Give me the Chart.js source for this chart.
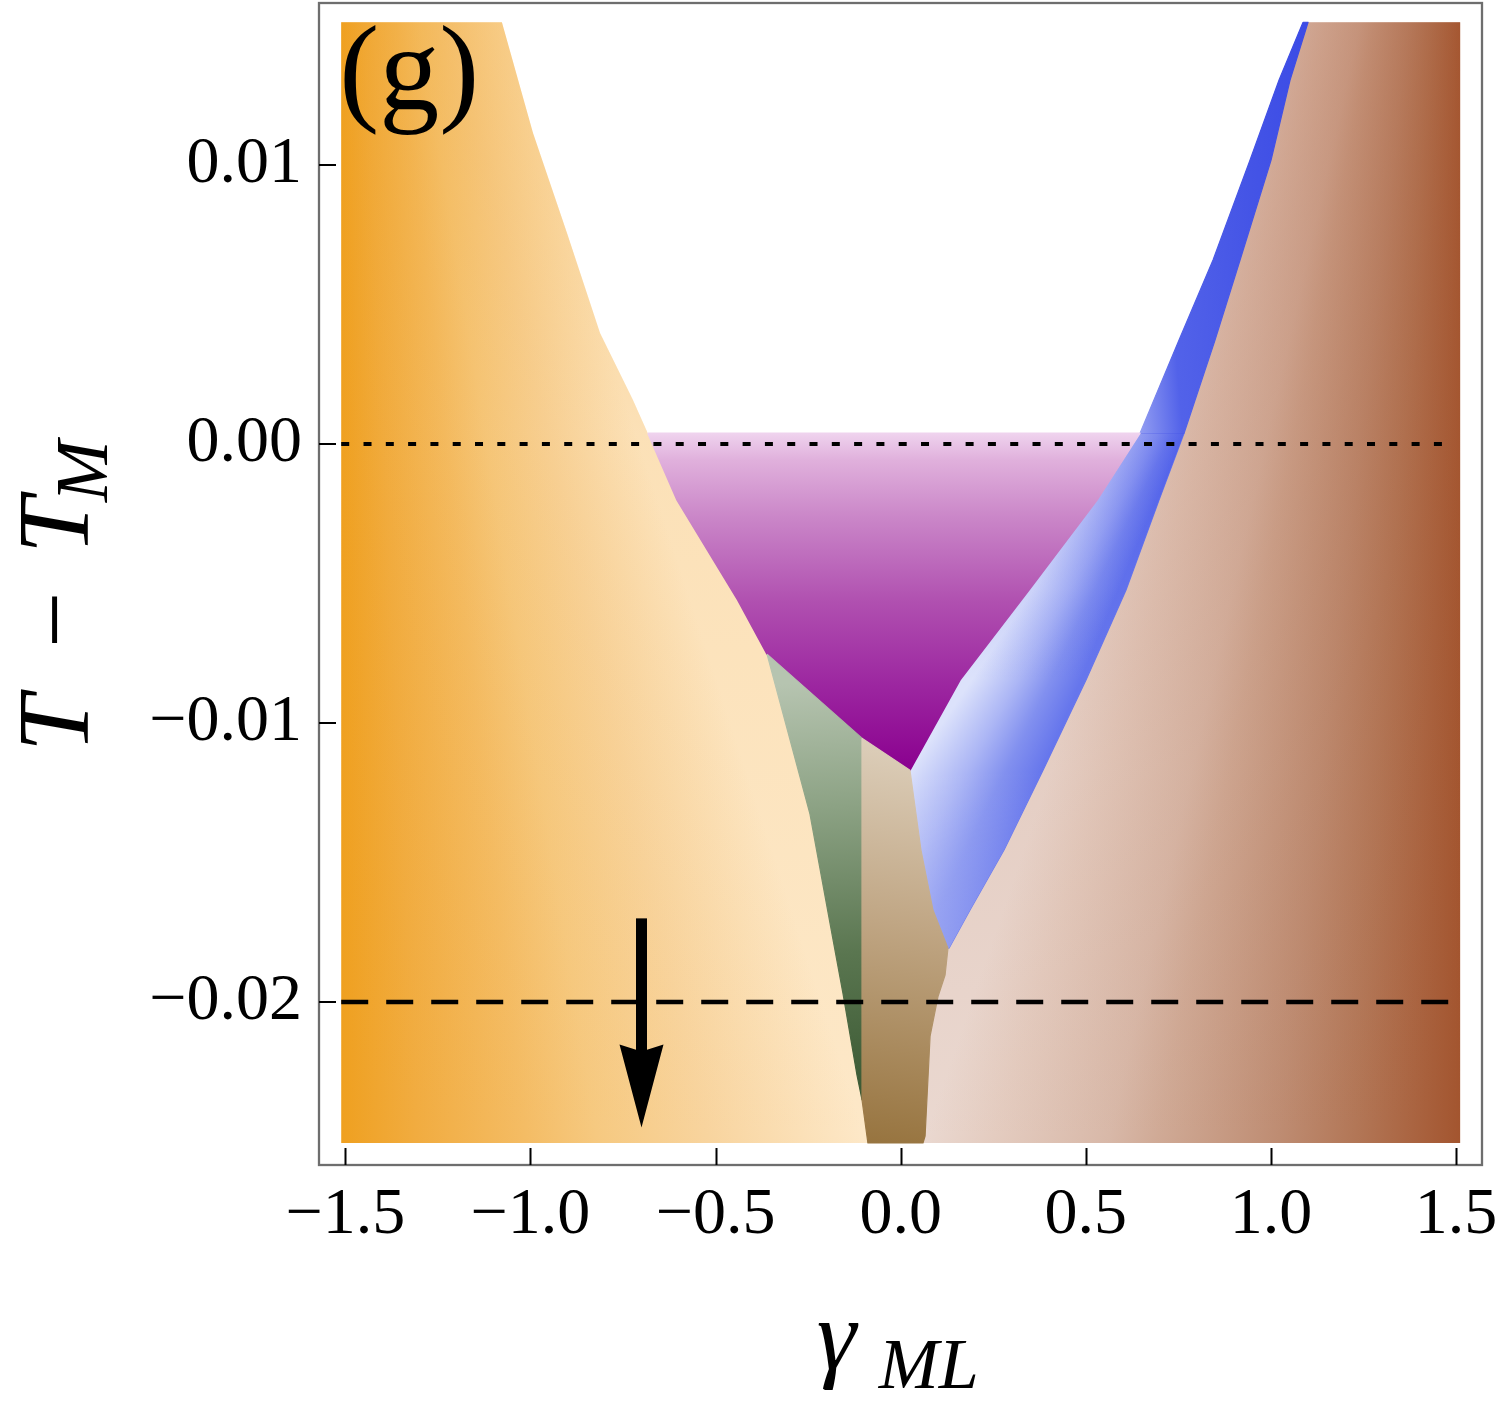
<!DOCTYPE html>
<html>
<head>
<meta charset="utf-8">
<script src="https://cdn.jsdelivr.net/npm/chart.js@4.4.1/dist/chart.umd.min.js"></script>
<style>
  html, body { margin: 0; padding: 0; background: #ffffff; }
  #wrap { width: 1500px; height: 1402px; }
</style>
</head>
<body>
<div id="wrap"><canvas id="c" width="1500" height="1402"></canvas></div>
<script>
// ================= DATA =================
const xTickValues = [-1.5, -1.0, -0.5, 0.0, 0.5, 1.0, 1.5];
const xTickLabels = ['−1.5', '−1.0', '−0.5', '0.0', '0.5', '1.0', '1.5'];
const yTickValues = [0.01, 0.00, -0.01, -0.02];
const yTickLabels = ['0.01', '0.00', '−0.01', '−0.02'];

const frameGamma = [-1.571, 1.570];      // frame (axis) range, gamma_ML
const frameT = [-0.02584, 0.01581];      // frame (axis) range, T - T_M
const gammaMin = -1.511, gammaMax = 1.511;   // extent of the computed map
const tMin = -0.02505, tMax = 0.01512;

// left (orange) phase boundary, top to bottom: vs. empty, vs. purple, vs. green, vs. tan
const orangeEdgeGamma = [-1.077, -0.993, -0.901, -0.812, -0.723, -0.683, -0.604, -0.440, -0.361, -0.245, -0.183, -0.156, -0.118, -0.1045, -0.0886];
const orangeEdgeT     = [0.01512, 0.01115, 0.00756, 0.00398, 0.00158, 0.00039, -0.00201, -0.00559, -0.00753, -0.01326, -0.01774, -0.01968, -0.02262, -0.0235, -0.02505];

const purpleTopT = 0.00039;
// green / purple boundary
const greenTopGamma = [-0.361, -0.1045];
const greenTopT     = [-0.00753, -0.01054];

// blue band: rows of (T, left edge, right edge)
const blueT          = [0.01512, 0.01305, 0.01018, 0.00660, 0.00373, 0.00039, -0.00201, -0.00523, -0.00846, -0.01169, -0.01455, -0.01670, -0.01807];
const blueLeftGamma  = [1.0867, 1.0219, 0.9436, 0.8436, 0.7518, 0.6464, 0.5303, 0.3466, 0.1602, 0.0251, 0.0548, 0.0872, 0.1277];
const blueRightGamma = [1.1002, 1.0516, 1.0003, 0.9166, 0.8490, 0.7653, 0.6977, 0.6086, 0.5005, 0.3844, 0.2790, 0.1872, 0.1305];

// tan / brown boundary below the blue tip
const tanEdgeGamma = [0.1199, 0.1010, 0.0794, 0.0659, 0.0602];
const tanEdgeT     = [-0.01903, -0.01979, -0.02122, -0.02480, -0.02505];

// reference lines and arrow
const dottedLineT = 0.0;
const dashedLineT = -0.02;
const refLineGamma = [-1.511, 1.5];
const arrowGamma = -0.7, arrowFromT = -0.017, arrowToT = -0.0245;

const panelLabel = '(g)';
const xTitleMain = 'γ', xTitleSub = 'ML';
const yTitleParts = ['T', '−', 'T'], yTitleSub = 'M';

// ================= STYLE helpers =================
const seamGamma = -0.05;   // hidden joint of the two underlay layers (covered by purple/tan)
const FONT = '"Liberation Serif", "Times New Roman", serif';

const P = (g, t) => ({ x: g, y: t });
const closedPts = arr => arr.concat([arr[0]]);
const px = (ch, g) => ch.scales.x.getPixelForValue(g);
const py = (ch, t) => ch.scales.y.getPixelForValue(t);

function linGradPx(ch, x0, y0, x1, y1, stops) {
  const gr = ch.ctx.createLinearGradient(x0, y0, x1, y1);
  stops.forEach(([s, c]) => gr.addColorStop(s, c));
  return gr;
}
function linGrad(ch, g0, t0, g1, t1, stops) {
  return linGradPx(ch, px(ch, g0), py(ch, t0), px(ch, g1), py(ch, t1), stops);
}
// conic gradient around (cx,cy); stops given as [angle, colour] with ascending angles
function conicGrad(ch, cx, cy, angleStops, fallback) {
  const ctx = ch.ctx;
  if (typeof ctx.createConicGradient !== 'function') return fallback;
  const start = angleStops[0][0] - 0.3;
  const g = ctx.createConicGradient(start, cx, cy);
  g.addColorStop(0, angleStops[0][1]);
  angleStops.forEach(([a, c]) => g.addColorStop(Math.min(1, Math.max(0, (a - start) / (2 * Math.PI))), c));
  g.addColorStop(1, angleStops[angleStops.length - 1][1]);
  return g;
}
// where the line a-b meets the vertical line x = X (pixels)
function meetVertical(ax, ay, bx, by, X) { return ay + (X - ax) * (by - ay) / (bx - ax); }
function lineMeet(a1, a2, b1, b2) {
  const d1x = a2[0] - a1[0], d1y = a2[1] - a1[1], d2x = b2[0] - b1[0], d2y = b2[1] - b1[1];
  const den = d1x * d2y - d1y * d2x;
  const s = ((b1[0] - a1[0]) * d2y - (b1[1] - a1[1]) * d2x) / den;
  return [a1[0] + s * d1x, a1[1] + s * d1y];
}

const datasets = [];
function region(points, gradFn, order, bw) {
  const col = c => (c.chart.chartArea ? c.dataset.gradFn(c.chart) : 'rgba(0,0,0,0)');
  datasets.push({
    type: 'line', data: points, fill: 'shape', order: order, gradFn: gradFn,
    backgroundColor: col,
    borderColor: bw ? col : 'rgba(0,0,0,0)',
    borderWidth: bw || 0, borderJoinStyle: 'round',
    pointRadius: 0, pointHoverRadius: 0, pointHitRadius: 0, tension: 0
  });
}

// ---- orange phase (extends under purple/green/tan) ----
const orangePts = (() => {
  const pts = [P(gammaMin, tMax)];
  for (let i = 0; i <= 6; i++) pts.push(P(orangeEdgeGamma[i], orangeEdgeT[i]));
  pts.push(P(seamGamma, orangeEdgeT[6]), P(seamGamma, tMin), P(gammaMin, tMin));
  return pts;
})();
region(orangePts, ch => {
  const n = orangeEdgeGamma.length - 1;
  const ax = px(ch, orangeEdgeGamma[0]), ay = py(ch, orangeEdgeT[0]);
  const bx = px(ch, orangeEdgeGamma[n]), by = py(ch, orangeEdgeT[n]);
  const X = px(ch, gammaMin), cy = meetVertical(ax, ay, bx, by, X);
  const tb = Math.atan2(by - cy, bx - X), tl = Math.PI / 2;
  const A = f => tb + f * (tl - tb);     // f = 0 at boundary, 1 at left edge
  return conicGrad(ch, X, cy, [[A(0), '#FDE8C8'], [A(0.29), '#F8D49E'], [A(0.5), '#F6C980'], [A(0.64), '#F4BC64'], [A(0.85), '#F1AC40'], [A(1), '#EFA020']],
    linGrad(ch, gammaMin, tMin, -0.1, tMin, [[0, '#EFA020'], [1, '#FDE8C8']]));
}, 20, 0);
region(orangePts, ch => linGrad(ch, 0, tMax, 0, tMin,
  [[0, 'rgba(239,160,32,0.40)'], [(py(ch, purpleTopT) - py(ch, tMax)) / (py(ch, tMin) - py(ch, tMax)), 'rgba(239,160,32,0.10)'], [1, 'rgba(239,160,32,0)']]), 19, 0);

// ---- brown phase (extends under blue/purple/tan) ----
const brownPts = (() => {
  const pts = [P(gammaMax, tMax)];
  for (let i = 0; i <= 6; i++) pts.push(P(blueLeftGamma[i], blueT[i]));
  pts.push(P(seamGamma, blueT[6]), P(seamGamma, tMin), P(gammaMax, tMin));
  return pts;
})();
region(brownPts, ch => {
  const n = tanEdgeGamma.length - 1;
  const ax = px(ch, blueRightGamma[0]), ay = py(ch, blueT[0]);
  const bx = px(ch, tanEdgeGamma[n]), by = py(ch, tanEdgeT[n]);
  const X = px(ch, gammaMax), cy = meetVertical(ax, ay, bx, by, X);
  const tb = Math.atan2(by - cy, bx - X), tr = Math.PI / 2;
  const A = f => tb - f * (tb - tr);     // f = 0 at boundary, 1 at right edge
  return conicGrad(ch, X, cy, [[A(1), '#A3552F'], [A(0.8), '#B27656'], [A(0.65), '#BE8C72'], [A(0.42), '#D0AA96'], [A(0.33), '#D8B8A8'], [A(0.12), '#E4CCC0'], [A(0), '#EAD8D0']],
    linGrad(ch, 0.06, tMin, gammaMax, tMin, [[0, '#EAD8D0'], [1, '#A3552F']]));
}, 20, 0);
region(brownPts, ch => {
  const y0 = py(ch, tMax), y1 = py(ch, tMin), f = t => (py(ch, t) - y0) / (y1 - y0);
  return linGradPx(ch, 0, y0, 0, y1, [[0, 'rgba(168,90,53,0.40)'], [f(purpleTopT), 'rgba(168,90,53,0.22)'], [f(-0.0117), 'rgba(168,90,53,0.08)'], [1, 'rgba(168,90,53,0)']]);
}, 19, 0);

// ---- blue band, upper part (above the purple phase) ----
{
  const pts = [];
  for (let i = 0; i <= 5; i++) pts.push(P(blueLeftGamma[i], blueT[i]));
  for (let i = 5; i >= 0; i--) pts.push(P(blueRightGamma[i], blueT[i]));
  region(closedPts(pts), ch => {
    const x0 = px(ch, blueLeftGamma[5]), y0 = py(ch, blueT[5]);
    const L = 193;
    return linGradPx(ch, x0, y0, x0 + 0.996 * L, y0 - 0.083 * L,
      [[0, '#929DF2'], [0.22, '#5262E9'], [0.68, '#4454E6'], [1, '#3C4CE6']]);
  }, 12, 1.2);
}
// ---- blue band, lower part ----
const blueLowPts = (() => {
  const pts = [];
  for (let i = 5; i < blueT.length; i++) pts.push(P(blueLeftGamma[i], blueT[i]));
  for (let i = blueT.length - 1; i >= 5; i--) pts.push(P(blueRightGamma[i], blueT[i]));
  return closedPts(pts);
})();
region(blueLowPts, ch => {
  const l1 = [px(ch, blueLeftGamma[5]), py(ch, blueT[5])], l2 = [px(ch, blueLeftGamma[9]), py(ch, blueT[9])];
  const r1 = [px(ch, blueRightGamma[5]), py(ch, blueT[5])], r2 = [px(ch, blueRightGamma[9]), py(ch, blueT[9])];
  const c = lineMeet(l1, l2, r1, r2);
  const aL = Math.atan2(l2[1] - c[1], l2[0] - c[0]), aR = Math.atan2(r2[1] - c[1], r2[0] - c[0]);
  const A = f => aR + f * (aL - aR);     // f = 0 right edge (dark), 1 left edge (light)
  return conicGrad(ch, c[0], c[1], [[A(0), '#6676EC'], [A(0.3), '#8290EF'], [A(0.6), '#ACB6F5'], [A(1), '#DCE2FB']],
    linGrad(ch, blueLeftGamma[8], 0, blueRightGamma[8], 0, [[0, '#DCE2FB'], [1, '#6676EC']]));
}, 12, 1.2);
region(blueLowPts, ch => {
  const y0 = py(ch, blueT[5]), y1 = py(ch, blueT[12]), f = t => (py(ch, t) - y0) / (y1 - y0);
  return linGradPx(ch, 0, y0, 0, y1, [[0, 'rgba(56,72,230,0.45)'], [f(blueT[7]), 'rgba(56,72,230,0.10)'], [f(blueT[8]), 'rgba(56,72,230,0)'],
    [f(blueT[9]), 'rgba(255,255,255,0)'], [1, 'rgba(255,255,255,0.22)']]);
}, 11, 0);

// ---- purple phase ----
{
  const pts = [P(orangeEdgeGamma[5], purpleTopT)];
  for (let i = 5; i <= 9; i++) pts.push(P(blueLeftGamma[i], blueT[i]));
  pts.push(P(greenTopGamma[1], greenTopT[1]), P(greenTopGamma[0], greenTopT[0]));
  pts.push(P(orangeEdgeGamma[7], orangeEdgeT[7]), P(orangeEdgeGamma[6], orangeEdgeT[6]));
  region(closedPts(pts), ch => linGrad(ch, 0, purpleTopT, 0, blueT[9],
    [[0, '#EFD3EE'], [0.08, '#E0B0DC'], [0.25, '#CA86C8'], [0.5, '#B050B0'], [0.75, '#9C26A0'], [1, '#8A008F']]), 10, 1.5);
}

// ---- green phase ----
{
  const pts = [P(greenTopGamma[0], greenTopT[0]), P(greenTopGamma[1], greenTopT[1])];
  for (let i = 13; i >= 9; i--) pts.push(P(orangeEdgeGamma[i], orangeEdgeT[i]));
  region(closedPts(pts), ch => linGrad(ch, -0.2, -0.0085, -0.13, -0.0235,
    [[0, '#B6C4B0'], [0.3, '#8CA284'], [0.65, '#5A7650'], [1, '#3A5832']]), 9, 1.2);
}

// ---- tan phase ----
{
  const pts = [P(greenTopGamma[1], greenTopT[1])];
  for (let i = 9; i <= 12; i++) pts.push(P(blueLeftGamma[i], blueT[i]));
  for (let i = 0; i < tanEdgeGamma.length; i++) pts.push(P(tanEdgeGamma[i], tanEdgeT[i]));
  pts.push(P(orangeEdgeGamma[14], orangeEdgeT[14]), P(orangeEdgeGamma[13], orangeEdgeT[13]));
  region(closedPts(pts), ch => linGrad(ch, 0.08, -0.0108, -0.09, tMin,
    [[0, '#DDCFBB'], [0.45, '#C0A684'], [1, '#97743F']]), 8, 1.2);
}

// ---- reference lines ----
datasets.push({
  type: 'line', data: [P(refLineGamma[0], dottedLineT), P(refLineGamma[1], dottedLineT)],
  borderColor: '#000', borderWidth: 4, borderDash: [8, 14.3], borderCapStyle: 'butt',
  fill: false, pointRadius: 0, pointHitRadius: 0, order: 2
});
datasets.push({
  type: 'line', data: [P(refLineGamma[0], dashedLineT), P(refLineGamma[1], dashedLineT)],
  borderColor: '#000', borderWidth: 4.5, borderDash: [27, 18], borderCapStyle: 'butt',
  fill: false, pointRadius: 0, pointHitRadius: 0, order: 2
});

// ================= decorations drawn through the scales =================
const decor = {
  id: 'decor',
  afterDatasetsDraw(chart) {
    const ctx = chart.ctx;
    const ax = px(chart, arrowGamma), ay0 = py(chart, arrowFromT), ay1 = py(chart, arrowToT);
    const headLen = 83, headHalf = 22, notch = 7, shaftW = 11;
    ctx.save();
    ctx.fillStyle = '#000';
    ctx.fillRect(ax - shaftW / 2, ay0, shaftW, (ay1 - headLen + notch + 2) - ay0);
    ctx.beginPath();
    ctx.moveTo(ax, ay1);
    ctx.lineTo(ax - headHalf, ay1 - headLen);
    ctx.lineTo(ax, ay1 - headLen + notch);
    ctx.lineTo(ax + headHalf, ay1 - headLen);
    ctx.closePath();
    ctx.fill();
    ctx.restore();
  },
  afterDraw(chart) {
    const ctx = chart.ctx, a = chart.chartArea;
    ctx.save();
    // frame
    ctx.strokeStyle = '#6E6E6E'; ctx.lineWidth = 2.3;
    ctx.strokeRect(a.left, a.top, a.right - a.left, a.bottom - a.top);
    // inward ticks
    ctx.strokeStyle = '#000'; ctx.lineWidth = 2;
    ctx.beginPath();
    xTickValues.forEach(v => { const x = Math.round(px(chart, v)) + 0.5; ctx.moveTo(x, a.bottom); ctx.lineTo(x, a.bottom - 17); });
    yTickValues.forEach(v => { const y = Math.round(py(chart, v)); ctx.moveTo(a.left, y); ctx.lineTo(a.left + 17, y); });
    ctx.stroke();
    // panel label
    ctx.fillStyle = '#000';
    ctx.textAlign = 'left'; ctx.textBaseline = 'alphabetic';
    ctx.font = '120px ' + FONT;
    ctx.fillText(panelLabel, px(chart, gammaMin) - 2, 109);
    // x title
    const cx = px(chart, 0);
    ctx.font = 'italic 100px ' + FONT;
    ctx.fillText(xTitleMain, cx - 84, 1369);
    ctx.font = 'italic 72px ' + FONT;
    ctx.fillText(xTitleSub, cx - 22, 1388);
    // y title (rotated)
    ctx.translate(88, 752);
    ctx.rotate(-Math.PI / 2);
    ctx.font = 'italic 102px ' + FONT; ctx.fillText(yTitleParts[0], 0, 0);
    ctx.font = '100px ' + FONT; ctx.fillText(yTitleParts[1], 104, 0);
    ctx.font = 'italic 102px ' + FONT; ctx.fillText(yTitleParts[2], 198, 0);
    ctx.font = 'italic 74px ' + FONT; ctx.fillText(yTitleSub, 250, 19);
    ctx.restore();
  }
};

new Chart(document.getElementById('c'), {
  type: 'line',
  data: { datasets: datasets },
  options: {
    responsive: false, animation: false, devicePixelRatio: 1, events: [],
    layout: { padding: { top: 3, right: 18, left: 0, bottom: 0 } },
    plugins: { legend: { display: false }, tooltip: { enabled: false } },
    scales: {
      x: {
        type: 'linear', position: 'bottom', min: frameGamma[0], max: frameGamma[1],
        grid: { display: false, drawTicks: false }, border: { display: false },
        afterBuildTicks: s => { s.ticks = xTickValues.map(v => ({ value: v })); },
        afterFit: s => { s.height = 237; s.paddingLeft = 0; s.paddingRight = 0; },
        ticks: {
          color: '#000', padding: 11, maxRotation: 0, minRotation: 0, autoSkip: false, includeBounds: false,
          font: { family: FONT, size: 66, lineHeight: 1.2 },
          callback: (v, i) => xTickLabels[i]
        }
      },
      y: {
        type: 'linear', position: 'left', min: frameT[0], max: frameT[1],
        grid: { display: false, drawTicks: false }, border: { display: false },
        afterBuildTicks: s => { s.ticks = yTickValues.map(v => ({ value: v })); },
        afterFit: s => { s.width = 319; s.paddingTop = 0; s.paddingBottom = 0; },
        ticks: {
          color: '#000', padding: 17, autoSkip: false, includeBounds: false,
          font: { family: FONT, size: 66, lineHeight: 1.2 },
          callback: (v, i) => yTickLabels[i]
        }
      }
    }
  },
  plugins: [decor]
});
</script>
</body>
</html>
